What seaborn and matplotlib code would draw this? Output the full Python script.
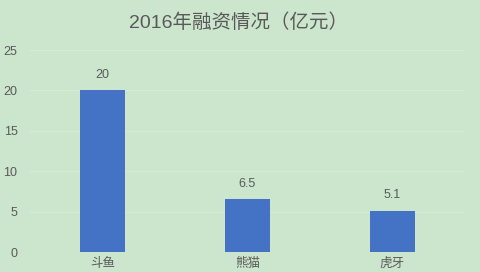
import matplotlib
matplotlib.use("Agg")
import matplotlib.pyplot as plt
import seaborn as sns
import pandas as pd

# Financing amounts in 2016 (unit: 100 million yuan)
platforms = ["斗鱼", "熊猫", "虎牙"]
amounts = [20, 6.5, 5.1]
value_labels = ["20", "6.5", "5.1"]
y_ticks = [0, 5, 10, 15, 20, 25]

bg = "#cce6cd"
bar_color = "#4472c4"
text_color = "#595959"

sns.set_theme(style="white")
plt.rcParams["font.family"] = ["Liberation Sans", "Noto Sans CJK SC", "DejaVu Sans"]

df = pd.DataFrame({"platform": platforms, "amount": amounts})

fig = plt.figure(figsize=(4.8, 2.72), dpi=100)
fig.patch.set_facecolor(bg)
ax = fig.add_axes([0.0625, 0.0735, 0.906, 0.7425])
ax.set_facecolor(bg)

sns.barplot(data=df, x="platform", y="amount", color=bar_color,
            width=0.31, saturation=1, linewidth=0, ax=ax, zorder=3)

for patch, lab in zip(ax.patches, value_labels):
    ax.annotate(lab, (patch.get_x() + patch.get_width() / 2, patch.get_height()),
                xytext=(0, 7), textcoords="offset points",
                ha="center", va="bottom", fontsize=9, color=text_color)

ax.set_xlim(-0.5, 2.5)
ax.set_ylim(0, 25)
ax.set_yticks(y_ticks)
ax.yaxis.grid(True, color="#d4ebd5", linewidth=0.8, zorder=0)
ax.set_axisbelow(True)
for s in ax.spines.values():
    s.set_visible(False)
ax.tick_params(axis="both", length=0, labelsize=9, colors=text_color)
ax.tick_params(axis="y", pad=9)
ax.tick_params(axis="x", pad=4)
ax.set_xlabel("")
ax.set_ylabel("")

fig.text(0.496, 0.918, "2016年融资情况（亿元）", ha="center", va="center",
         fontsize=14, color=text_color)

fig.savefig("out.png", dpi=100, facecolor=bg)
